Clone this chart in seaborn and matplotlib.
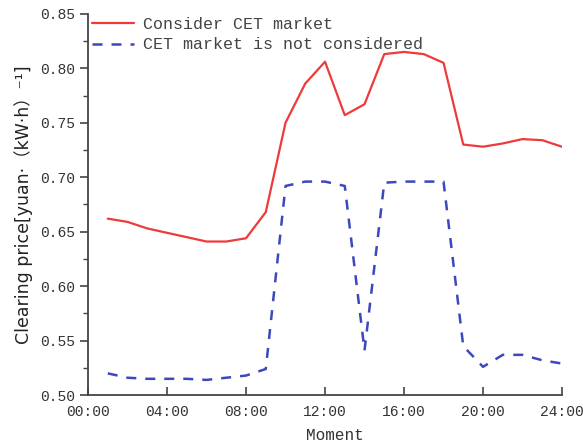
import matplotlib
matplotlib.use("Agg")
import matplotlib.pyplot as plt
import seaborn as sns
import pandas as pd
from matplotlib.ticker import MultipleLocator, FixedLocator

hours = list(range(1, 25))
consider_cet = [0.662, 0.659, 0.653, 0.649, 0.645, 0.641, 0.641, 0.644,
                0.668, 0.750, 0.786, 0.806, 0.757, 0.767, 0.813, 0.815,
                0.813, 0.805, 0.730, 0.728, 0.731, 0.735, 0.734, 0.728]
no_cet = [0.520, 0.516, 0.515, 0.515, 0.515, 0.514, 0.516, 0.518,
          0.524, 0.692, 0.696, 0.696, 0.692, 0.541, 0.695, 0.696,
          0.696, 0.696, 0.545, 0.526, 0.537, 0.537, 0.532, 0.529]
series_names = ["Consider CET market", "CET market is not considered"]
x_ticks = [0, 4, 8, 12, 16, 20, 24]
x_ticklabels = ["00:00", "04:00", "08:00", "12:00", "16:00", "20:00", "24:00"]
y_ticks = [0.50, 0.55, 0.60, 0.65, 0.70, 0.75, 0.80, 0.85]

df = pd.DataFrame({
    "hour": hours * 2,
    "price": consider_cet + no_cet,
    "series": [series_names[0]] * len(hours) + [series_names[1]] * len(hours),
})

sns.set_style("white")
plt.rcParams["font.family"] = ["Liberation Mono", "DejaVu Sans"]

fig = plt.figure(figsize=(5.83, 4.45), dpi=100)
ax = fig.add_axes([0.151, 0.112, 0.813, 0.857])

sns.lineplot(data=df[df.series == series_names[0]], x="hour", y="price",
             color="#EE3A3A", linewidth=1.6, ax=ax, label=series_names[0])
sns.lineplot(data=df[df.series == series_names[1]], x="hour", y="price",
             color="#3C48BC", linewidth=1.8, ax=ax, label=series_names[1],
             linestyle=(0, (4.0, 3.6)))

ax.set_xlim(0, 24)
ax.set_ylim(0.50, 0.85)
ax.xaxis.set_major_locator(FixedLocator(x_ticks))
ax.set_xticklabels(x_ticklabels)
ax.yaxis.set_major_locator(FixedLocator(y_ticks))
ax.set_yticklabels([f"{v:.2f}" for v in y_ticks])
ax.yaxis.set_minor_locator(MultipleLocator(0.025))

for s in ["top", "right"]:
    ax.spines[s].set_visible(False)
for s in ["left", "bottom"]:
    ax.spines[s].set_color("#444444")
    ax.spines[s].set_linewidth(1.3)

ax.tick_params(axis="y", which="major", direction="out", length=6, width=1.2,
               colors="#444444", labelsize=10.5, labelcolor="#333333", left=True)
ax.tick_params(axis="y", which="minor", direction="out", length=3.5, width=1.0,
               colors="#444444", left=True)
ax.tick_params(axis="x", which="major", direction="in", length=6, width=1.2,
               colors="#444444", labelsize=10.5, labelcolor="#333333", bottom=True, pad=7)

ax.set_xlabel("Moment", fontsize=11.5, color="#333333")
ax.xaxis.set_label_coords(0.521, -0.085)
ax.set_ylabel("Clearing price[yuan·（kW·h）⁻¹]", fontsize=12.5, color="#222222",
              family=["DejaVu Sans", "Noto Sans CJK SC"])
ax.yaxis.set_label_coords(-0.117, 0.5)

leg = ax.legend(loc="upper left", frameon=False, fontsize=12, handlelength=2.5,
                borderaxespad=0.0, labelspacing=0.35, handletextpad=0.55,
                bbox_to_anchor=(-0.006, 1.01))
for t in leg.get_texts():
    t.set_color("#444444")

fig.savefig("out.png", dpi=100)
